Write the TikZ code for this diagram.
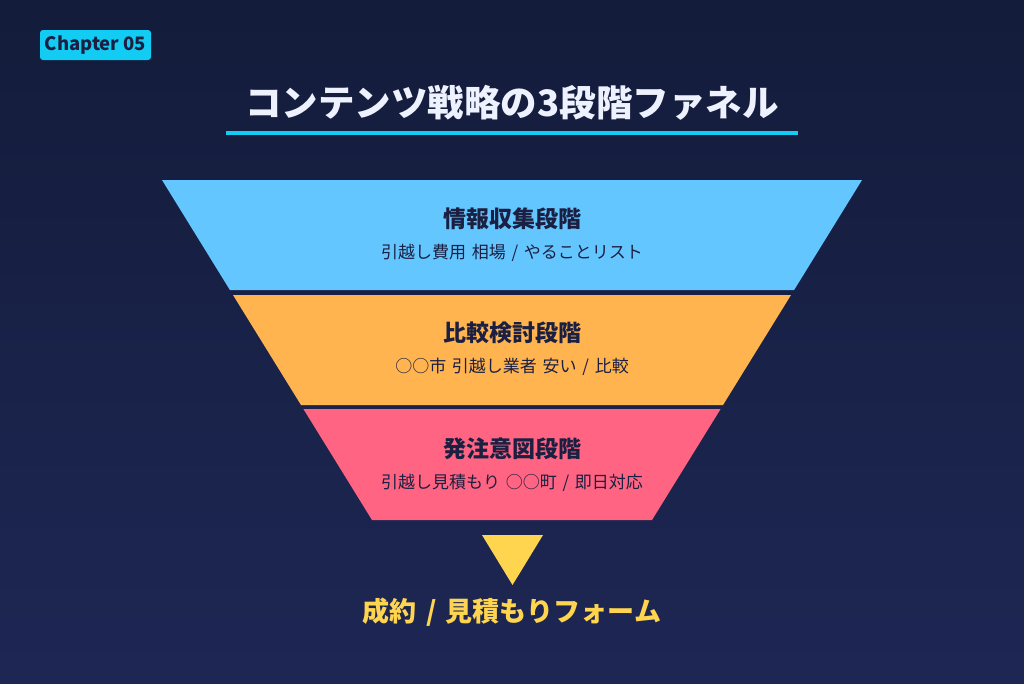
\documentclass[tikz,border=0pt]{standalone}
\usepackage{fontspec}
\setmainfont{Noto Sans CJK JP}[WordSpace=1.5]
\newfontfamily\tagfont{Noto Sans CJK JP}
\usepackage{tikz}
\usetikzlibrary{positioning,calc}

\definecolor{bgtop}{HTML}{131C3A}
\definecolor{bgbot}{HTML}{1E2754}
\definecolor{accent}{HTML}{12CCF4}
\definecolor{ink}{HTML}{1B2042}
\definecolor{bandA}{HTML}{64C6FF}
\definecolor{bandB}{HTML}{FFB450}
\definecolor{bandC}{HTML}{FF6482}
\definecolor{goal}{HTML}{FFD54F}
\definecolor{titlefg}{HTML}{EEF2FF}

\tikzset{
  stagename/.style={font=\fontsize{23}{25}\selectfont\bfseries,text=ink,inner sep=0pt},
  stagekw/.style={font=\fontsize{17}{18}\selectfont,text=ink,inner sep=0pt},
}

\begin{document}
\begin{tikzpicture}[x=1pt,y=-1pt]
  % 背景（上から下へ少し明るくなる紺色）
  \shade[top color=bgtop,bottom color=bgbot] (0,0) rectangle (1024,683);
  \useasboundingbox (0,0) rectangle (1024,683);

  % 左上のチャプタータグ
  \node[fill=accent,rounded corners=3pt,minimum width=111pt,minimum height=30pt,inner sep=0pt,
        font=\tagfont\fontsize{18.5}{20}\selectfont\bfseries,text=ink] (tag) at (95.5,45) {Chapter 05};

  % タイトルと下線
  \node[font=\fontsize{36.5}{40}\selectfont\bfseries,text=titlefg,inner sep=0pt] (title) at (512,103)
    {コンテンツ戦略の3段階ファネル};
  \fill[accent] (226,131) rectangle (798,135); % タイトル下の水色ライン

  % ファネルの3段（台形）。左右の辺は同じ傾きで下へ狭まる
  \fill[bandA] (162,180) -- (862,180) -- (794.1,290) -- (229.9,290) -- cycle;
  \fill[bandB] (233,295) -- (791,295) -- (723,405) -- (301,405) -- cycle;
  \fill[bandC] (303.4,409) -- (720.6,409) -- (652,520) -- (372,520) -- cycle;

  % 各段のラベル
  \node[stagename] (infoname) at (512,219) {情報収集段階};
  \node[stagekw,below=14pt of infoname] (infokw) {引越し費用 相場 / やることリスト};

  \node[stagename] (cmpname) at (512,333) {比較検討段階};
  \node[stagekw,below=14pt of cmpname] (cmpkw) {○○市 引越し業者 安い / 比較};

  \node[stagename] (ordername) at (512,449) {発注意図段階};
  \node[stagekw,below=14pt of ordername] (orderkw) {引越し見積もり ○○町 / 即日対応};

  % 下向きの三角形とゴール
  \fill[goal] (482,535) -- (543,535) -- (512.5,585) -- cycle;
  \node[font=\fontsize{27}{29}\selectfont\bfseries,text=goal,inner sep=0pt] (goalname) at (512,612)
    {成約 / 見積もりフォーム};
\end{tikzpicture}
\end{document}
